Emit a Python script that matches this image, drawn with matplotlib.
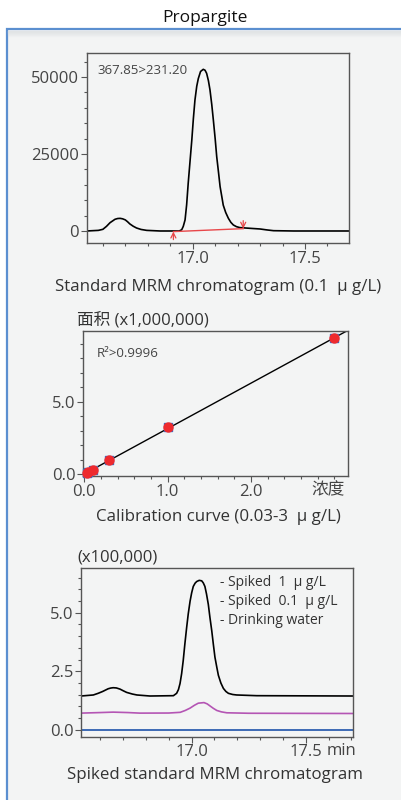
import numpy as np
import matplotlib.pyplot as plt
from matplotlib.patches import Rectangle
from matplotlib.ticker import MultipleLocator, FixedLocator
from matplotlib.transforms import blended_transform_factory

plt.rcParams['font.family'] = ['Open Sans', 'Noto Sans CJK SC', 'DejaVu Sans']

# Standard MRM chromatogram, 0.1 ug/L (retention time in min, intensity)
std_time = [16.528, 16.58, 16.60, 16.616, 16.632, 16.644, 16.654, 16.666, 16.677, 16.688,
            16.70, 16.71, 16.72, 16.735, 16.75, 16.77, 16.795, 16.855, 16.94, 16.951,
            16.958, 16.966, 16.973, 16.98, 16.988, 16.996, 17.003, 17.01, 17.018, 17.025,
            17.035, 17.047, 17.055, 17.062, 17.07, 17.077, 17.085, 17.092, 17.10, 17.107,
            17.115, 17.122, 17.13, 17.136, 17.147, 17.159, 17.17, 17.181, 17.195, 17.21,
            17.255, 17.30, 17.33, 17.36, 17.45, 17.70]
std_int = [0, 200, 540, 1500, 2700, 3300, 3800, 4050, 4100, 3950,
           3600, 3000, 2300, 1550, 970, 500, 200, 0, 0, 400,
           1500, 3600, 8500, 15500, 22500, 29500, 36500, 42500, 47000, 49500,
           51800, 52500, 52200, 51200, 48800, 45800, 41000, 36000, 30000, 24100,
           19000, 14400, 11000, 8400, 6000, 4100, 2800, 1950, 1400, 1100,
           870, 650, 350, 100, 0, 0]
# integration baseline (start, end)
base_time = [16.914, 17.225]
base_int = [-200, 760]

# Calibration curve
conc = [0.03, 0.05, 0.1, 0.3, 1.0, 3.0]
area = [0.10, 0.17, 0.30, 0.95, 3.22, 9.43]
fit_x = [0.0, 3.2]
fit_slope = 3.14

# Spiked samples (x100,000)
sp1_time = [16.515, 16.569, 16.59, 16.61, 16.634, 16.645, 16.656, 16.67, 16.686, 16.70,
            16.715, 16.74, 16.76, 16.817, 16.92, 16.934, 16.942, 16.949, 16.956, 16.963,
            16.97, 16.978, 16.985, 16.993, 17.00, 17.007, 17.015, 17.022, 17.033, 17.044,
            17.051, 17.058, 17.065, 17.073, 17.08, 17.088, 17.095, 17.102, 17.11, 17.117,
            17.128, 17.139, 17.15, 17.161, 17.18, 17.197, 17.285, 17.709]
sp1_int = [1.446, 1.49, 1.56, 1.64, 1.755, 1.785, 1.80, 1.79, 1.74, 1.67,
           1.60, 1.53, 1.49, 1.446, 1.46, 1.56, 1.72, 1.98, 2.40, 2.96,
           3.65, 4.37, 4.95, 5.49, 5.85, 6.12, 6.26, 6.33, 6.38, 6.36,
           6.27, 6.12, 5.80, 5.35, 4.80, 4.23, 3.65, 3.10, 2.68, 2.33,
           2.00, 1.77, 1.64, 1.56, 1.51, 1.49, 1.46, 1.446]
sp01_time = [16.515, 16.60, 16.656, 16.72, 16.773, 16.90, 16.95, 16.972, 16.993, 17.012,
             17.029, 17.054, 17.068, 17.08, 17.095, 17.11, 17.13, 17.154, 17.25, 17.709]
sp01_int = [0.716, 0.74, 0.758, 0.74, 0.716, 0.72, 0.75, 0.83, 0.93, 1.05,
            1.14, 1.165, 1.11, 1.025, 0.92, 0.83, 0.77, 0.73, 0.71, 0.70]
water_time = [16.515, 17.709]
water_int = [0.0, 0.0]
legend_lines = ['- Spiked  1  μ g/L', '- Spiked  0.1  μ g/L', '- Drinking water']

W, H = 402, 800
fig = plt.figure(figsize=(W / 100, H / 100), dpi=100)
fig.patch.set_facecolor('white')

# framed panel behind the plots
panel = Rectangle((7 / W, -0.01), 1.0, 1 - 29 / H + 0.01, transform=fig.transFigure,
                  facecolor='#f3f4f4', edgecolor='#5b8fd0', lw=1.6, zorder=-5)
fig.add_artist(panel)
for i in range(6):
    y = 1 - (31 + i) / H
    fig.add_artist(plt.Line2D([8 / W, 1], [y, y], transform=fig.transFigure,
                              color='#d8dcdf', alpha=0.6 - i * 0.1, lw=1, zorder=-4))

fig.text(205 / W, 1 - 18 / H, 'Propargite', ha='center', va='center', fontsize=12.5, color='#111')

def px(x, y):
    return x / W, 1 - y / H

tick_col = '#444444'
frame_col = '#555555'

def style(ax):
    ax.set_facecolor('none')
    for s in ax.spines.values():
        s.set_color(frame_col)
        s.set_linewidth(1.0)
    ax.tick_params(which='major', direction='out', length=4, width=0.8, colors=frame_col,
                   labelcolor=tick_col, labelsize=12, pad=1.5)
    ax.tick_params(which='minor', direction='out', length=2.5, width=0.8, colors=frame_col)

# --- standard chromatogram
ax1 = fig.add_axes([86.7 / W, 1 - 243 / H, 262.3 / W, 190 / H])
style(ax1)
ax1.plot(std_time, std_int, color='black', lw=1.2)
ax1.plot(base_time, base_int, color='#e8474a', lw=1.0)
arrow = dict(arrowstyle='->', color='#e8474a', lw=0.9, mutation_scale=9, shrinkA=0, shrinkB=0)
ax1.annotate('', xy=(base_time[0], base_int[0]), xytext=(base_time[0], base_int[0] - 2600),
             arrowprops=arrow)
ax1.annotate('', xy=(base_time[1], base_int[1]), xytext=(base_time[1], base_int[1] + 2600),
             arrowprops=arrow)
ax1.set_xlim(16.528, 17.696)
ax1.set_ylim(-3900, 57800)
ax1.xaxis.set_major_locator(FixedLocator([17.0, 17.5]))
ax1.xaxis.set_minor_locator(MultipleLocator(0.1))
ax1.set_xticklabels(['17.0', '17.5'])
ax1.yaxis.set_major_locator(MultipleLocator(25000))
ax1.yaxis.set_minor_locator(MultipleLocator(5000))
ax1.text(0.04, 0.91, '367.85>231.20', transform=ax1.transAxes, fontsize=9.5, color='#444', va='center')
fig.text(*px(218, 287), 'Standard MRM chromatogram (0.1  μ g/L)', ha='center', va='center',
         fontsize=12.2, color='#333')

# --- calibration curve
ax2 = fig.add_axes([83.3 / W, 1 - 476 / H, 264.7 / W, 145.3 / H])
style(ax2)
ax2.plot(fit_x, [fit_slope * v for v in fit_x], color='black', lw=1.0, zorder=2)
ax2.scatter(conc, area, marker='s', s=30, color='#3a6fc4', zorder=3, clip_on=False)
ax2.scatter(conc, area, marker='o', s=42, color='#ee2a2e', zorder=4, clip_on=False)
ax2.set_xlim(-0.012, 3.165)
ax2.set_ylim(-0.14, 9.91)
ax2.xaxis.set_major_locator(FixedLocator([0.0, 1.0, 2.0]))
ax2.xaxis.set_minor_locator(MultipleLocator(0.2))
ax2.set_xticklabels(['0.0', '1.0', '2.0'])
ax2.yaxis.set_major_locator(FixedLocator([0.0, 5.0]))
ax2.yaxis.set_minor_locator(MultipleLocator(1.0))
ax2.set_yticklabels(['0.0', '5.0'])
ax2.text(2.93, -0.04, '浓度', transform=ax2.get_xaxis_transform(), ha='center', va='top',
         fontsize=12, color=tick_col)
ax2.text(0.05, 0.84, 'R²>0.9996', transform=ax2.transAxes, fontsize=9.5, color='#444', va='center')
fig.text(*px(77, 320), '面积 (x1,000,000)', ha='left', va='center', fontsize=12, color='#333')
fig.text(*px(218, 517), 'Calibration curve (0.03-3  μ g/L)', ha='center', va='center',
         fontsize=12.2, color='#333')

# --- spiked samples
ax3 = fig.add_axes([81 / W, 1 - 736.7 / H, 272 / W, 169 / H])
style(ax3)
ax3.plot(sp1_time, sp1_int, color='black', lw=1.2)
ax3.plot(sp01_time, sp01_int, color='#b455b4', lw=1.2)
ax3.plot(water_time, water_int, color='#2e5fb0', lw=1.3)
ax3.set_xlim(16.515, 17.707)
ax3.set_ylim(-0.29, 6.92)
ax3.xaxis.set_major_locator(FixedLocator([17.0, 17.5]))
ax3.xaxis.set_minor_locator(MultipleLocator(0.1))
ax3.set_xticklabels(['17.0', '17.5'])
ax3.yaxis.set_major_locator(FixedLocator([0.0, 2.5, 5.0]))
ax3.yaxis.set_minor_locator(MultipleLocator(0.5))
ax3.set_yticklabels(['0.0', '2.5', '5.0'])
for i, s in enumerate(legend_lines):
    fig.text(*px(220, 583 + i * 18.5), s, ha='left', va='center', fontsize=10, color='#333')
ax3.text(17.59, -0.04, 'min', transform=ax3.get_xaxis_transform(), ha='left', va='top',
         fontsize=12, color=tick_col)
fig.text(*px(77, 557), '(x100,000)', ha='left', va='center', fontsize=12, color='#333')
fig.text(*px(215, 775), 'Spiked standard MRM chromatogram', ha='center', va='center',
         fontsize=12.2, color='#333')

fig.savefig('out.png', dpi=100)
